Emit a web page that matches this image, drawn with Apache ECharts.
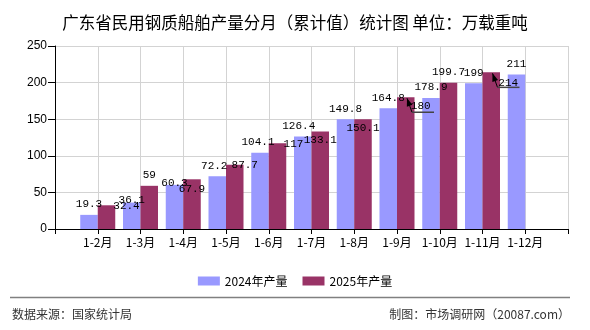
<!DOCTYPE html>
<html>
<head>
<meta charset="utf-8">
<script src="https://cdn.jsdelivr.net/npm/echarts@6/dist/echarts.min.js"></script>
<style>
  html, body { margin: 0; padding: 0; background: #fff; }
  #chart { width: 590px; height: 330px; }
</style>
</head>
<body>
<div id="chart"></div>
<script>
// categories (empty slots at both ends so labels sit on the ticks)
const months = ['', '1-2月', '1-3月', '1-4月', '1-5月', '1-6月', '1-7月', '1-8月', '1-9月', '1-10月', '1-11月', '1-12月', '']
const output2024 = [null, 19.3, 36.1, 60.3, 72.2, 104.1, 126.4, 149.8, 164.8, 178.9, 199, 211, null]
const output2025 = [null, 32.4, 59, 67.9, 87.7, 117, 133.1, 150.1, 180, 199.7, 214, null, null]
const yTicks = [0, 50, 100, 150, 200, 250]

// label nudges, copied by eye from the reference
const shift2024 = { 2: [0, 8], 3: [0, 9], 4: [-3, 0], 5: [-2, 0], 6: [-4, 0] }
const shift2025 = { 1: [20, 11], 3: [0, 20], 4: [10, 11], 5: [16, 11], 6: [0, 19], 7: [0, 19], 8: [15, 19], 10: [17, 21] }
// 2025 points whose label has a small arrow pointing back at the bar
const pointerIdx = [8, 10]

const chart = echarts.init(document.getElementById('chart'))

const labelFont = {
  show: true,
  position: 'top',
  distance: 5,
  color: '#000',
  fontSize: 11,
  fontFamily: 'Liberation Mono'
}

const renderPointer = (params, api) => {
  const p = api.coord([api.value(0), api.value(1)])
  const tip = [p[0] + 10, p[1] + 1]
  const knee = [p[0] + 15, p[1] + 15]
  const end = [p[0] + 37, p[1] + 15]
  // arrow head along knee -> tip
  const vx = tip[0] - knee[0], vy = tip[1] - knee[1]
  const len = Math.sqrt(vx * vx + vy * vy)
  const ux = vx / len, uy = vy / len
  const bx = tip[0] - ux * 8, by = tip[1] - uy * 8
  return {
    type: 'group',
    children: [
      {
        type: 'polyline',
        shape: { points: [tip, knee] },
        style: { stroke: '#000', lineWidth: 1, fill: null }
      },
      {
        type: 'polyline',
        shape: { points: [knee, end] },
        style: { stroke: '#444', lineWidth: 1.5, fill: null }
      },
      {
        type: 'polygon',
        shape: { points: [tip, [bx - uy * 3, by + ux * 3], [bx + uy * 3, by - ux * 3]] },
        style: { fill: '#000' }
      }
    ]
  }
}

const option = {
  backgroundColor: '#fff',
  animation: false,
  title: {
    text: '广东省民用钢质船舶产量分月（累计值）统计图 单位：万载重吨',
    left: 'center',
    top: 9,
    textStyle: { fontSize: 16.5, fontWeight: 'normal', color: '#000', fontFamily: 'Noto Sans CJK SC' }
  },
  legend: {
    left: 'center',
    top: 270,
    itemWidth: 22,
    itemHeight: 9,
    itemGap: 15,
    icon: 'rect',
    textStyle: { fontSize: 12, color: '#000', fontFamily: 'Noto Sans CJK SC' },
    data: ['2024年产量', '2025年产量']
  },
  grid: { left: 55, right: 22, top: 46, bottom: 101 },
  xAxis: {
    type: 'category',
    data: months,
    boundaryGap: false,
    axisLine: { lineStyle: { color: '#000', width: 1 } },
    axisTick: { show: true, length: 5, lineStyle: { color: '#000' } },
    axisLabel: { color: '#000', fontSize: 12, margin: 7, fontFamily: 'Noto Sans CJK SC', interval: 0 },
    splitLine: { show: true, lineStyle: { color: '#d3d3d3' } }
  },
  yAxis: {
    type: 'value',
    min: yTicks[0],
    max: yTicks[yTicks.length - 1],
    interval: 50,
    axisLine: { show: true, lineStyle: { color: '#000' } },
    axisTick: { show: true, length: 7, lineStyle: { color: '#000' } },
    axisLabel: { color: '#000', fontSize: 12, margin: 8, fontFamily: 'Liberation Sans' },
    splitLine: { lineStyle: { color: '#d3d3d3' } }
  },
  series: [
    {
      name: '2024年产量',
      type: 'bar',
      data: output2024,
      barWidth: 17.5,
      barGap: '0%',
      itemStyle: { color: '#9999ff' },
      label: labelFont,
      labelLayout: p => {
        const s = shift2024[p.dataIndex] || [0, 0]
        return { dx: s[0], dy: s[1] }
      }
    },
    {
      name: '2025年产量',
      type: 'bar',
      data: output2025,
      barWidth: 17.5,
      barGap: '0%',
      itemStyle: { color: '#993366' },
      label: labelFont,
      labelLayout: p => {
        const s = shift2025[p.dataIndex] || [0, 0]
        return { dx: s[0], dy: s[1] }
      }
    },
    {
      type: 'custom',
      silent: true,
      z: 10,
      renderItem: renderPointer,
      data: pointerIdx.map(i => [i, output2025[i]])
    }
  ],
  graphic: [
    {
      type: 'line',
      shape: { x1: 10, y1: 297.5, x2: 570, y2: 297.5 },
      style: { stroke: '#808080', lineWidth: 1.5 }
    },
    {
      type: 'text',
      left: 12,
      top: 308,
      style: { text: '数据来源：国家统计局', fontSize: 12, fill: '#333', fontFamily: 'Noto Sans CJK SC' }
    },
    {
      type: 'text',
      right: 20,
      top: 308,
      style: { text: '制图：市场调研网（20087.com）', fontSize: 12, fill: '#333', fontFamily: 'Noto Sans CJK SC' }
    }
  ]
}

chart.setOption(option)
</script>
</body>
</html>
